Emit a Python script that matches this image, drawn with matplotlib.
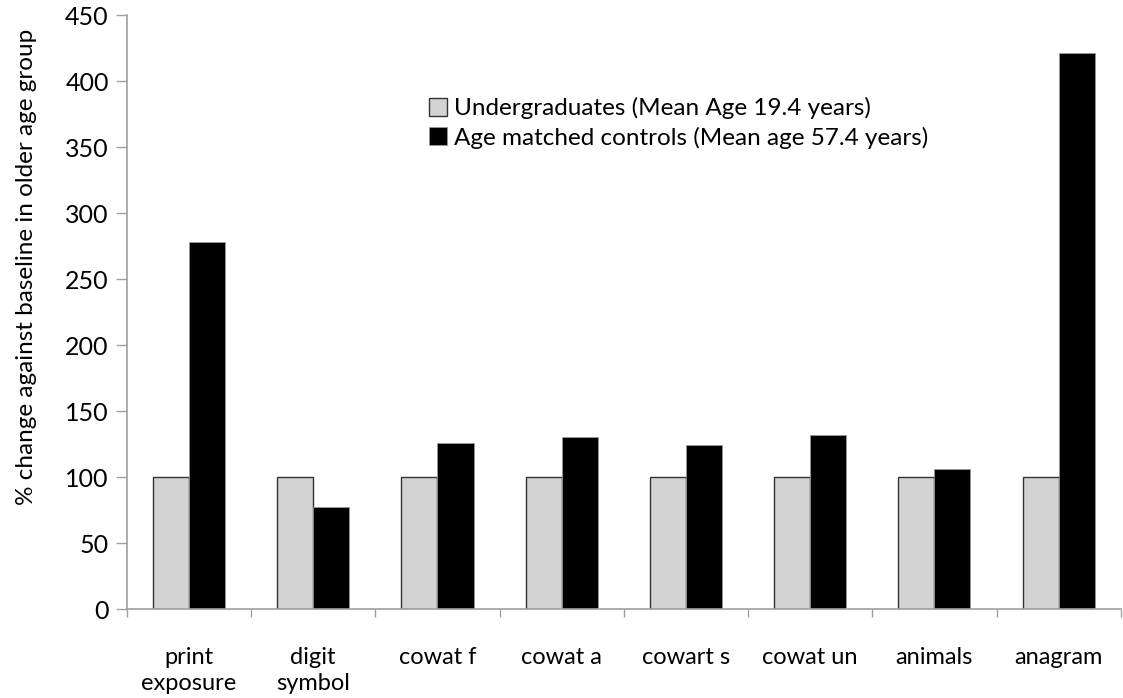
import matplotlib.pyplot as plt
import numpy as np

categories = ['print\nexposure', 'digit\nsymbol', 'cowat f', 'cowat a',
              'cowart s', 'cowat un', 'animals', 'anagram']
undergrad = [100, 100, 100, 100, 100, 100, 100, 100]
controls = [278, 77, 126, 130, 124, 132, 106, 421]
yticks = [0, 50, 100, 150, 200, 250, 300, 350, 400, 450]

plt.rcParams['font.family'] = ['Lato', 'DejaVu Sans']

fig = plt.figure(figsize=(11.23, 6.98), dpi=100)
ax = fig.add_axes([0.113, 0.1275, 0.885, 0.851])

x = np.arange(len(categories))
w = 0.29
ax.bar(x - w / 2, undergrad, w, color='#d3d3d3', edgecolor='#333333',
       linewidth=1.0, label='Undergraduates (Mean Age 19.4 years)')
ax.bar(x + w / 2, controls, w, color='black', edgecolor='#999999',
       linewidth=0.6, label='Age matched controls (Mean age 57.4 years)')

ax.set_xlim(-0.5, len(categories) - 0.5)
ax.set_ylim(0, 450)
ax.set_yticks(yticks)
ax.set_xticks(x)
ax.set_xticklabels(categories, fontsize=17, va='top', linespacing=1.35)
ax.set_xticks(np.arange(len(categories) + 1) - 0.5, minor=True)
ax.tick_params(axis='x', which='major', length=0, pad=27)
ax.tick_params(axis='x', which='minor', length=6, color='#a0a0a0', width=1)
ax.tick_params(axis='y', length=8, color='#a0a0a0', width=1, labelsize=18, pad=5)

for s in ['top', 'right']:
    ax.spines[s].set_visible(False)
for s in ['left', 'bottom']:
    ax.spines[s].set_color('#a0a0a0')
    ax.spines[s].set_linewidth(1.2)

ax.set_ylabel('% change against baseline in older age group', fontsize=17.5)
ax.yaxis.set_label_coords(-0.09, 0.576)

ax.legend(loc='upper left', bbox_to_anchor=(0.292, 0.882), frameon=False,
          fontsize=17.5, handlelength=0.75, handleheight=0.75, handletextpad=0.25,
          labelspacing=0.3, borderpad=0)

fig.savefig('out.png', dpi=100)
